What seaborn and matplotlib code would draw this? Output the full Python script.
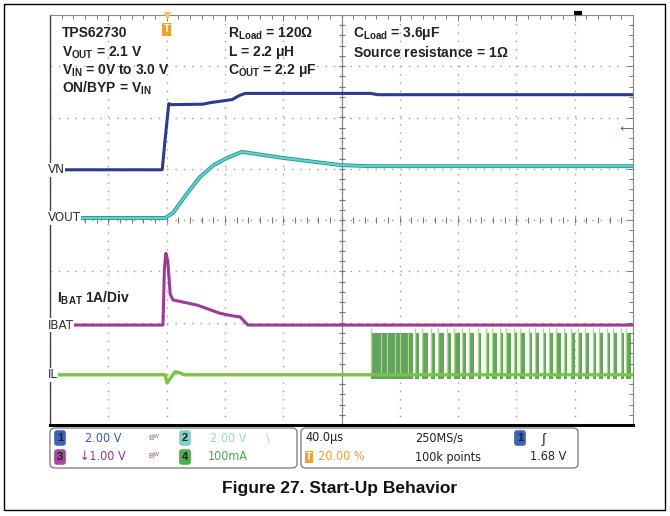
import numpy as np
import matplotlib
matplotlib.use("Agg")
import matplotlib.pyplot as plt
import seaborn as sns
from matplotlib.patches import FancyBboxPatch, Rectangle

# --- values (time in us, trigger = 0 at 20 % of record) ---
vin_t = [-80, -3, -1, 1.5, 3, 25, 30, 40, 45, 50, 54, 140, 145, 320]
vin_v = [0, 0, 1.2, 2.58, 2.54, 2.56, 2.62, 2.7, 2.74, 2.9, 2.98, 2.98, 2.93, 2.93]

vout_t = [-80, -1, 4.4, 14, 22.9, 32, 41.4, 51.7, 80, 100, 120, 140, 320]
vout_v = [0, 0, 0.2, 0.95, 1.6, 2.05, 2.34, 2.58, 2.34, 2.2, 2.06, 2.02, 2.02]

ibat_t = [-80, -2.5, -1.5, -0.5, 0.8, 2.5, 4.4, 20.9, 36.6, 45, 50.4, 55.8, 320]
ibat_a = [0, 0, 1.1, 1.4, 1.25, 0.6, 0.49, 0.39, 0.23, 0.18, 0.16, 0.0, 0.0]

il_t = [-80, -1, 0.3, 3, 5.8, 9, 12, 320]
il_ma = [0, 0, -16, -5, 6, 4, 0, 0]

# switching bursts of the inductor current (start, end) in us
il_burst_start = [140.2, 170.5, 175.5, 181.5, 186, 192.5, 197.5, 203, 207.5, 213.5,
                  219, 223, 229, 233, 238.5, 242.5, 248.5, 252.5, 258.5, 262.5,
                  267.5, 273, 277.5, 282.5, 287, 292.5, 296.5, 302, 306, 311.5, 315.5]
il_burst_end = [169.1, 173, 179.5, 184, 190.5, 195, 201, 205.5, 211, 215.5,
                221, 226.5, 231, 236, 240.5, 246, 250.5, 255.5, 260.5, 265,
                270.5, 275, 280, 285, 290, 294.5, 299.5, 304, 309, 313.5, 318.5]
il_burst_peak = 82      # mA
il_burst_low = -8       # mA
il_light_lines = [147, 151.5, 157, 160, 165.5]

# channel settings: ground marker position (div from centre) and scale per div
ch_names = ["VN", "VOUT", "IBAT", "IL"]
ch_offset = [0.98, 0.04, -2.05, -3.02]
ch_scale = [2.0, 2.0, 1.0, 100.0]
trig_level = 1.68

c_vin = "#2d3a8f"
c_vout_dark = "#2a9a96"
c_vout = "#63d4cc"
c_ibat = "#9c3b96"
c_il = "#7cc446"
c_il_dark = "#3d8c3a"
c_trig = "#f0a030"

sns.set_theme(style="white")
plt.rcParams["font.family"] = ["Liberation Sans", "DejaVu Sans"]
plt.rcParams["mathtext.fontset"] = "custom"
plt.rcParams["mathtext.rm"] = "Liberation Sans:bold"
plt.rcParams["mathtext.bf"] = "Liberation Sans:bold"
plt.rcParams["mathtext.it"] = "Liberation Sans:bold"

W, H = 670, 516


def fx(px):
    return px / W


def fy(py):
    return 1 - py / H


fig = plt.figure(figsize=(W / 100, H / 100), dpi=100)
fig.patch.set_facecolor("white")
ax = fig.add_axes([fx(50), fy(425), (633 - 50) / W, (425 - 15) / H])
ax.set_xlim(-80, 320)
ax.set_ylim(-4, 4)


def scr(vals, i):
    return [ch_offset[i] + v / ch_scale[i] for v in vals]


# traces
sns.lineplot(x=vin_t, y=scr(vin_v, 0), ax=ax, color=c_vin, lw=2.2,
             estimator=None, sort=False, zorder=5)
sns.lineplot(x=vout_t, y=scr(vout_v, 1), ax=ax, color=c_vout_dark, lw=2.8,
             estimator=None, sort=False, zorder=5)
sns.lineplot(x=vout_t, y=scr(vout_v, 1), ax=ax, color=c_vout, lw=1.4,
             estimator=None, sort=False, zorder=6)
sns.lineplot(x=ibat_t, y=scr(ibat_a, 2), ax=ax, color=c_ibat, lw=2.2,
             estimator=None, sort=False, zorder=5)

lo = ch_offset[3] + il_burst_low / ch_scale[3]
hi = ch_offset[3] + il_burst_peak / ch_scale[3]
for s, e in zip(il_burst_start, il_burst_end):
    ax.fill_between([s, e], lo, hi, color=c_il_dark, alpha=0.8, lw=0, zorder=3)
    ax.vlines(s, ch_offset[3], hi + 0.1, color="#a8de80", lw=1.0, zorder=4)
ax.vlines(il_light_lines, ch_offset[3], hi, color="#a8de80", lw=0.8, zorder=4)
sns.lineplot(x=il_t, y=scr(il_ma, 3), ax=ax, color=c_il, lw=2.4,
             estimator=None, sort=False, zorder=5)

# graticule
ax.set_xticks(np.arange(-80, 321, 40))
ax.set_yticks(np.arange(-4, 5, 1))
ax.set_xticks(np.arange(-80, 321, 8), minor=True)
ax.set_yticks(np.arange(-4, 4.01, 0.2), minor=True)
ax.grid(True, which="major", color="#9a9a9a", lw=1.0, ls=(0, (1, 5)))
ax.tick_params(which="both", direction="in", labelbottom=False, labelleft=False,
               top=True, right=True, length=3, color="#777777", width=0.7)
ax.tick_params(which="major", length=4)
ax.axvline(120, color="#8a8a8a", lw=0.9, zorder=2)
ax.plot(np.arange(-80, 321, 8), np.zeros(51), ls="none", marker="|", ms=5,
        color="#777777", mew=0.8, zorder=2)
ax.plot(np.full(41, 120), np.arange(-4, 4.01, 0.2), ls="none", marker="_", ms=5,
        color="#777777", mew=0.8, zorder=2)
for side in ["top", "right"]:
    ax.spines[side].set_color("#888888")
    ax.spines[side].set_linewidth(0.8)
ax.spines["left"].set_color("#444444")
ax.spines["left"].set_linewidth(1.0)
ax.spines["bottom"].set_color("black")
ax.spines["bottom"].set_linewidth(2.2)

# channel ground markers
for name, off in zip(ch_names, ch_offset):
    ax.text(-0.004, off, name, transform=ax.get_yaxis_transform(), fontsize=9.5,
            family="DejaVu Sans", fontstretch="condensed", color="#333333",
            ha="left", va="center", zorder=8,
            bbox=dict(facecolor="white", edgecolor="none", pad=0.3))

# trigger markers
ax.text(0, 3.72, "T", fontsize=7, fontweight="bold", color="white", ha="center",
        va="center", zorder=9,
        bbox=dict(boxstyle="square,pad=0.15", facecolor=c_trig, edgecolor="none"))
ax.plot([0], [4], marker="v", ms=5, color="#f5c070", clip_on=False, zorder=9)
ax.plot([282], [4.04], marker="_", ms=6, mew=3, color="black", clip_on=False, zorder=9)
ax.text(315, ch_offset[0] + trig_level / ch_scale[0], "\u2190", fontsize=13,
        fontweight="bold", color="#3a5aa8", ha="center", va="center", zorder=9)

# annotations
txt = dict(fontsize=10, fontweight="bold", color="#222222", va="center", ha="left")
ax.text(0.021, 0.955, "TPS62730", transform=ax.transAxes, **txt)
ax.text(0.021, 0.909, r"V$_{\mathregular{OUT}}$ = 2.1 V", transform=ax.transAxes, **txt)
ax.text(0.021, 0.865, r"V$_{\mathregular{IN}}$ = 0V to 3.0 V", transform=ax.transAxes, **txt)
ax.text(0.021, 0.821, r"ON/BYP = V$_{\mathregular{IN}}$", transform=ax.transAxes, **txt)
ax.text(0.305, 0.955, r"R$_{\mathregular{Load}}$ = 120$\Omega$", transform=ax.transAxes, **txt)
ax.text(0.305, 0.909, r"L = 2.2 $\mu$H", transform=ax.transAxes, **txt)
ax.text(0.305, 0.865, r"C$_{\mathregular{OUT}}$ = 2.2 $\mu$F", transform=ax.transAxes, **txt)
ax.text(0.519, 0.955, r"C$_{\mathregular{Load}}$ = 3.6$\mu$F", transform=ax.transAxes, **txt)
ax.text(0.519, 0.909, r"Source resistance = 1$\Omega$", transform=ax.transAxes, **txt)
ax.text(0.012, 0.309, r"I$_{\mathregular{BAT}}$ 1A/Div", transform=ax.transAxes, **txt)

# status bar below the screen
for x0, x1 in [(50, 297), (301, 578)]:
    fig.patches.append(FancyBboxPatch((fx(x0), fy(468)), fx(x1 - x0), (468 - 428) / H,
                                      boxstyle="round,pad=0,rounding_size=0.008",
                                      transform=fig.transFigure, facecolor="none",
                                      edgecolor="#777777", lw=0.9))
st = dict(fontsize=9, family="DejaVu Sans", fontstretch="condensed", va="center", ha="left")


def badge(px, py, num, col):
    fig.text(fx(px), fy(py), num, fontsize=8, fontweight="bold", color="#222222",
             ha="center", va="center",
             bbox=dict(boxstyle="round,pad=0.25", facecolor=col, edgecolor="none"))


badge(60, 438, "1", "#3f63b8")
badge(60, 457, "3", "#a04aa0")
badge(185, 438, "2", "#7fd0cc")
badge(185, 457, "4", "#4fae4f")
badge(520, 438, "1", "#3f63b8")
fig.text(fx(85), fy(438), "2.00 V", color="#3a5aa8", **st)
fig.text(fx(80), fy(457), "\u21931.00 V", color="#8c3a8c", **st)
fig.text(fx(148), fy(438), "B\u1d42", color="#6a7ab0", fontsize=6, va="center")
fig.text(fx(148), fy(457), "B\u1d42", color="#8c5a8c", fontsize=6, va="center")
fig.text(fx(210), fy(438), "2.00 V", color="#9ad6d2", **st)
fig.text(fx(266), fy(438), "\\", color="#9ad6d2", **st)
fig.text(fx(208), fy(457), "100mA", color="#4aa84a", **st)
fig.text(fx(305), fy(438), "40.0\u00b5s", color="#222222", **st)
fig.text(fx(306), fy(457), "T", color="white", fontsize=7, fontweight="bold", va="center",
         bbox=dict(boxstyle="square,pad=0.1", facecolor=c_trig, edgecolor="none"))
fig.text(fx(318), fy(457), "20.00 %", color=c_trig, **st)
fig.text(fx(415), fy(438), "250MS/s", color="#222222", **st)
fig.text(fx(415), fy(457), "100k points", color="#222222", **st)
fig.text(fx(542), fy(438), "\u222b", color="#222222", fontsize=10, va="center")
fig.text(fx(530), fy(457), "1.68 V", color="#222222", **st)

# caption and outer frame
fig.text(fx(340), fy(489), "Figure 27. Start-Up Behavior", fontsize=12.5,
         fontweight="bold", color="#111111", ha="center", va="center")
fig.patches.append(Rectangle((fx(4), fy(510)), fx(661), (510 - 4) / H,
                             transform=fig.transFigure, facecolor="none",
                             edgecolor="black", lw=1.0))

fig.savefig("out.png", dpi=100)
